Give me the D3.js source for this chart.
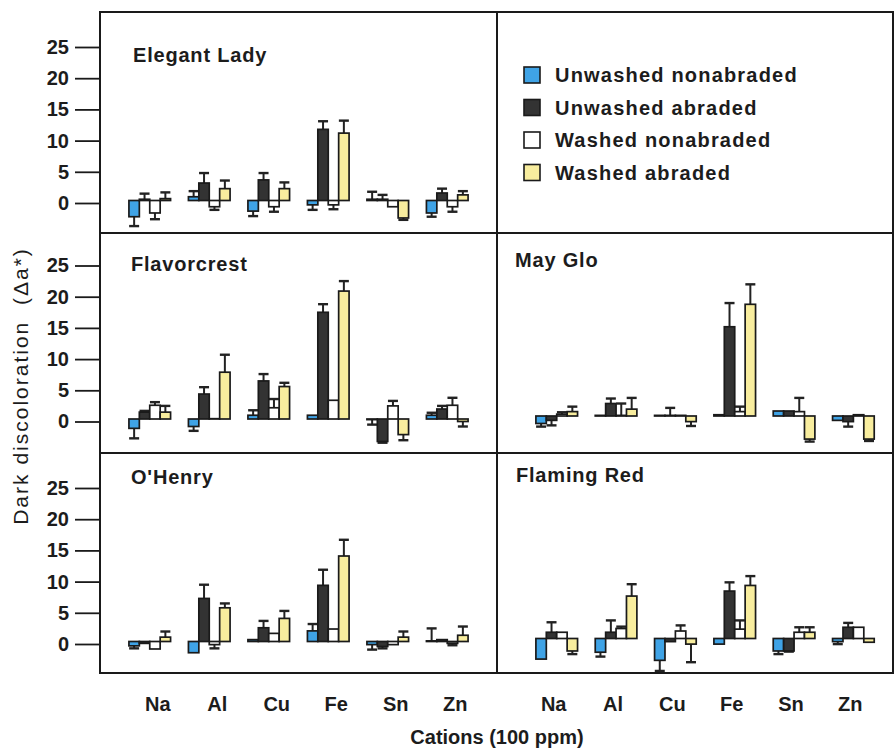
<!DOCTYPE html>
<html>
<head>
<meta charset="utf-8">
<script src="https://cdn.jsdelivr.net/npm/d3@7"></script>
<style>
  body { margin: 0; background: #fff; }
  text { font-family: "Liberation Sans", Arial, sans-serif; fill: #1c1c1c; }
</style>
</head>
<body>
<script>
// cations on the x axis, four treatments per cation
var cations = ["Na", "Al", "Cu", "Fe", "Sn", "Zn"];
var treatments = ["Unwashed nonabraded", "Unwashed abraded", "Washed nonabraded", "Washed abraded"];
var yTicks = [0, 5, 10, 15, 20, 25];

// mean delta a* per cation: [unwashed nonabr, unwashed abr, washed nonabr, washed abr]
var elegantLady    = [[-2.6, 0.2, -2.0, 0.3], [0.6, 2.8, -1.0, 1.9], [-1.7, 3.3, -1.0, 1.9], [-0.7, 11.4, -0.7, 10.8], [0.2, 0.2, -1.0, -2.8], [-2.0, 1.2, -1.0, 0.9]];
var elegantLadyErr = [[1.5, 0.9, 1.0, 1.0], [0.9, 1.6, 0.5, 1.3], [0.8, 1.1, 0.8, 1.0], [0.8, 1.3, 0.7, 2.0], [1.2, 0.7, 0, 0.3], [0.6, 0.7, 0.8, 0.6]];

var flavorcrest    = [[-1.5, 1.1, 2.2, 1.1], [-1.2, 4.0, 0.05, 7.5], [0.6, 6.1, 1.8, 5.2], [0.6, 17.1, 3.0, 20.5], [-0.1, -3.6, 2.1, -2.5], [0.6, 1.6, 2.2, -0.4]];
var flavorcrestErr = [[1.6, 0.2, 0.5, 1.0], [0.7, 1.1, 0, 2.8], [0.8, 1.1, 1.4, 0.6], [0, 1.3, 0, 1.6], [0.8, 0.2, 0.8, 0.9], [0.4, 0.5, 1.2, 0.8]];

var oHenry    = [[-0.7, -0.3, -1.2, 0.7], [-1.8, 6.9, -0.5, 5.4], [0.3, 2.2, 1.3, 3.7], [1.7, 9.0, 2.0, 13.7], [-0.5, -0.8, -0.5, 0.7], [0.1, 0.3, -0.3, 1.0]];
var oHenryErr = [[0.4, 0, 0, 0.9], [0, 2.2, 0.6, 0.7], [0, 1.1, 0, 1.2], [1.1, 2.5, 0, 2.6], [0.8, 0.3, 0, 0.9], [2.0, 0, 0.3, 1.4]];

var mayGlo    = [[-1.2, -0.7, 0.3, 0.7], [0.1, 2.0, 0.1, 1.1], [0.1, 0.1, 0.1, -0.9], [0.2, 14.3, 0.7, 17.9], [0.8, 0.8, 0.7, -3.7], [-0.7, -0.9, 0.2, -3.7]];
var mayGloErr = [[0.5, 0.8, 0.3, 0.8], [0, 0.8, 1.9, 1.8], [0, 1.2, 0, 0.7], [0, 3.8, 0.8, 3.2], [0, 0, 2.2, 0.4], [0, 0.8, 0, 0.3]];

var flamingRed    = [[-3.3, 1.0, 1.0, -2.0], [-2.2, 1.0, 1.6, 6.8], [-3.5, -0.5, 1.2, -0.9], [-0.9, 7.6, 1.5, 8.5], [-2.0, -2.0, 1.0, 1.0], [-0.5, 1.8, 1.8, -0.6]];
var flamingRedErr = [[0, 1.6, 0, 0.5], [0.7, 1.9, 0.3, 1.9], [1.7, 0, 0.9, 2.9], [0, 1.4, 1.4, 1.5], [0.5, 0.1, 0.8, 0.8], [0.4, 0.7, 0, 0]];

var fills = ["#3fa3e6", "#333333", "#ffffff", "#f8ed9e"];

var panels = [
  {name: "Elegant Lady", mean: elegantLady, err: elegantLadyErr, col: 0, row: 0, tx: 133, ty: 62},
  {name: "Flavorcrest",  mean: flavorcrest, err: flavorcrestErr, col: 0, row: 1, tx: 131, ty: 271},
  {name: "O'Henry",      mean: oHenry,      err: oHenryErr,      col: 0, row: 2, tx: 131, ty: 484},
  {name: "May Glo",      mean: mayGlo,      err: mayGloErr,      col: 1, row: 1, tx: 515, ty: 267},
  {name: "Flaming Red",  mean: flamingRed,  err: flamingRedErr,  col: 1, row: 2, tx: 516, ty: 482}
];

var W = 894, H = 750;
var frameL = 100, frameR = 893, frameT = 12, frameB = 673, midX = 497;
var zeros = [203, 421.5, 644];
var colShift = [-2.5, -5.5];   // scanned figure: right-hand baselines sit a little higher
var colRanges = [[120, 477], [527, 883]];
var labelDx = [8, -3];

var svg = d3.select("body").append("svg")
    .attr("width", W)
    .attr("height", H);

var yScales = zeros.map(function(z) {
  return d3.scaleLinear().domain([0, 25]).range([z, z - 156]);
});
var xScales = colRanges.map(function(r) {
  return d3.scaleBand().domain(cations).range(r).paddingInner(0.3).paddingOuter(0.15);
});
var xInner = d3.scaleBand().domain(d3.range(4)).range([0, xScales[0].bandwidth()]);

// panels
panels.forEach(function(p) {
  var x0 = xScales[p.col];
  var z = zeros[p.row] + colShift[p.col];
  var y = d3.scaleLinear().domain([0, 25]).range([z, z - 156]);
  var g = svg.append("g");

  var cells = [];
  p.mean.forEach(function(vals, i) {
    vals.forEach(function(v, j) {
      cells.push({c: cations[i], j: j, v: v, e: p.err[i][j]});
    });
  });

  var bw = xInner.bandwidth();
  function tip(d) { return y(d.v + (d.v < 0 ? -d.e : d.e)); }
  function mid(d) { return x0(d.c) + xInner(d.j) + bw / 2; }

  // error bars (drawn away from zero)
  var eb = g.selectAll("g.err")
     .data(cells.filter(function(d) { return d.e > 0; }))
     .enter().append("g").attr("class", "err");
  eb.append("line")
     .attr("x1", mid).attr("x2", mid)
     .attr("y1", function(d) { return y(d.v); })
     .attr("y2", tip)
     .attr("stroke", "#222").attr("stroke-width", 2);
  eb.append("line")
     .attr("x1", function(d) { return mid(d) - 5; })
     .attr("x2", function(d) { return mid(d) + 5; })
     .attr("y1", tip).attr("y2", tip)
     .attr("stroke", "#222").attr("stroke-width", 2.4);

  g.selectAll("rect")
     .data(cells)
     .enter().append("rect")
     .attr("x", function(d) { return x0(d.c) + xInner(d.j); })
     .attr("y", function(d) { return Math.min(y(d.v), y(0)); })
     .attr("width", bw)
     .attr("height", function(d) { return Math.abs(y(d.v) - y(0)); })
     .attr("fill", function(d) { return fills[d.j]; })
     .attr("stroke", "#1a1a1a")
     .attr("stroke-width", 1.7);

  svg.append("text")
     .attr("x", p.tx).attr("y", p.ty)
     .attr("font-size", 20).attr("font-weight", "bold")
     .attr("letter-spacing", 0.8)
     .text(p.name);
});

// frame
svg.append("rect")
   .attr("x", frameL).attr("y", frameT)
   .attr("width", frameR - frameL).attr("height", frameB - frameT)
   .attr("fill", "none").attr("stroke", "#1a1a1a").attr("stroke-width", 2);
svg.append("line")
   .attr("x1", midX).attr("x2", midX).attr("y1", frameT).attr("y2", frameB)
   .attr("stroke", "#1a1a1a").attr("stroke-width", 2);
[233, 453].forEach(function(yy) {
  svg.append("line")
     .attr("x1", frameL).attr("x2", frameR).attr("y1", yy).attr("y2", yy)
     .attr("stroke", "#1a1a1a").attr("stroke-width", 2);
});

// y axes, one per row
yScales.forEach(function(y) {
  var ax = svg.append("g")
     .attr("transform", "translate(" + frameL + ",0)")
     .call(d3.axisLeft(y).tickValues(yTicks).tickSize(25).tickPadding(6));
  ax.select(".domain").remove();
  ax.selectAll("line").attr("stroke", "#1a1a1a").attr("stroke-width", 1.8);
  ax.selectAll("text")
     .attr("font-size", 20).attr("font-weight", "bold")
     .attr("font-family", "Liberation Sans, Arial, sans-serif")
     .attr("fill", "#1c1c1c");
});

// x axes under the bottom row
xScales.forEach(function(x, k) {
  var ax = svg.append("g")
     .attr("transform", "translate(" + labelDx[k] + "," + frameB + ")")
     .call(d3.axisBottom(x).tickSize(0).tickPadding(24));
  ax.select(".domain").remove();
  ax.selectAll("text")
     .attr("font-size", 20).attr("font-weight", "bold")
     .attr("font-family", "Liberation Sans, Arial, sans-serif")
     .attr("fill", "#1c1c1c");
});

svg.append("text")
   .attr("x", midX).attr("y", 744)
   .attr("text-anchor", "middle")
   .attr("font-size", 20).attr("font-weight", "bold")
   .text("Cations (100 ppm)");

svg.append("text")
   .attr("transform", "translate(28,386) rotate(-90)")
   .attr("text-anchor", "middle")
   .attr("font-size", 21)
   .attr("letter-spacing", 2)
   .style("white-space", "pre")
   .text("Dark discoloration  (\u0394a*)");

// legend in the empty top-right panel
var leg = svg.append("g").selectAll("g")
   .data(treatments)
   .enter().append("g")
   .attr("transform", function(d, i) { return "translate(524," + (75 + i * 32.5) + ")"; });
leg.append("rect")
   .attr("x", 0).attr("y", -8).attr("width", 16).attr("height", 16)
   .attr("fill", function(d, i) { return fills[i]; })
   .attr("stroke", "#1a1a1a").attr("stroke-width", 1.6);
leg.append("text")
   .attr("x", 31).attr("y", 0).attr("dy", "0.36em")
   .attr("font-size", 20).attr("font-weight", "bold")
   .attr("letter-spacing", 1.2)
   .text(function(d) { return d; });
</script>
</body>
</html>
